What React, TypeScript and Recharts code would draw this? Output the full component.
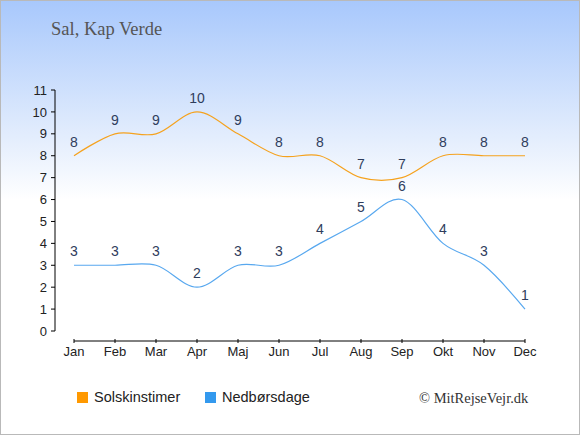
import React from "react";
import { LineChart, Line, XAxis, YAxis, LabelList, ReferenceLine, Legend } from "recharts";

const months = ["Jan", "Feb", "Mar", "Apr", "Maj", "Jun", "Jul", "Aug", "Sep", "Okt", "Nov", "Dec"];
const sunHours = [8, 9, 9, 10, 9, 8, 8, 7, 7, 8, 8, 8];
const rainDays = [3, 3, 3, 2, 3, 3, 4, 5, 6, 4, 3, 1];
const yTicks = [0, 1, 2, 3, 4, 5, 6, 7, 8, 9, 10, 11];

const seriesNames = { sun: "Solskinstimer", rain: "Nedbørsdage" };
const seriesColors = { sun: "#f5a21e", rain: "#58a8ef" };
const legendColors = { sun: "#ff9900", rain: "#3399ee" };

const data = months.map((month, i) => ({ month, sun: sunHours[i], rain: rainDays[i] }));

const PLOT_TOP = 90;
const PLOT_HEIGHT = 241;
const AXIS_GAP = 10; // x axis sits a little under the zero line
const gapValue = -(AXIS_GAP / (PLOT_HEIGHT / 11));

const sans = "'Liberation Sans', Arial, sans-serif";
const serif = "'Liberation Serif', 'Times New Roman', serif";

// cardinal spline (tension 0), same shape as d3's curveCardinal
class Cardinal {
  ctx: any;
  k = 1 / 6;
  x0 = NaN; x1 = NaN; x2 = NaN; y0 = NaN; y1 = NaN; y2 = NaN;
  pt = 0;
  ln: number = NaN;
  constructor(ctx: any) {
    this.ctx = ctx;
  }
  bez(x: number, y: number) {
    this.ctx.bezierCurveTo(
      this.x1 + this.k * (this.x2 - this.x0),
      this.y1 + this.k * (this.y2 - this.y0),
      this.x2 + this.k * (this.x1 - x),
      this.y2 + this.k * (this.y1 - y),
      this.x2,
      this.y2
    );
  }
  areaStart() { this.ln = 0; }
  areaEnd() { this.ln = NaN; }
  lineStart() {
    this.x0 = this.x1 = this.x2 = this.y0 = this.y1 = this.y2 = NaN;
    this.pt = 0;
  }
  lineEnd() {
    if (this.pt === 2) this.ctx.lineTo(this.x2, this.y2);
    else if (this.pt === 3) this.bez(this.x1, this.y1);
    if (this.ln || (this.ln !== 0 && this.pt === 1)) this.ctx.closePath();
    this.ln = 1 - this.ln;
  }
  point(x: number, y: number) {
    x = +x; y = +y;
    if (this.pt === 0) {
      this.pt = 1;
      this.ln ? this.ctx.lineTo(x, y) : this.ctx.moveTo(x, y);
    } else if (this.pt === 1) {
      this.pt = 2;
      this.x1 = x; this.y1 = y;
    } else {
      this.pt = 3;
      this.bez(x, y);
    }
    this.x0 = this.x1; this.x1 = this.x2; this.x2 = x;
    this.y0 = this.y1; this.y1 = this.y2; this.y2 = y;
  }
}
const cardinal = (ctx: any) => new Cardinal(ctx);

function MonthTick({ x, y, payload }: any) {
  return (
    <g>
      <line x1={x} x2={x} y1={y + AXIS_GAP - 2} y2={y + AXIS_GAP + 2} stroke="#000" />
      <text x={x} y={y + 25} textAnchor="middle" fontSize={13} fontFamily={sans} fill="#222">
        {payload.value}
      </text>
    </g>
  );
}

function LegendBox() {
  const keys: ("sun" | "rain")[] = ["sun", "rain"];
  return (
    <div style={{ display: "flex", alignItems: "center", fontFamily: sans, fontSize: 14.5, color: "#222" }}>
      {keys.map((k) => (
        <div key={k} style={{ display: "flex", alignItems: "center", width: k === "sun" ? 128 : "auto" }}>
          <span style={{ width: 11, height: 11, background: legendColors[k], marginRight: 6, display: "inline-block" }} />
          {seriesNames[k]}
        </div>
      ))}
    </div>
  );
}

export default function App() {
  return (
    <div
      style={{
        position: "absolute",
        left: 0,
        top: 0,
        width: 580,
        height: 435,
        boxSizing: "border-box",
        border: "1px solid #b9b9b9",
        background: "linear-gradient(180deg, #a8c8fc 0%, #e6effd 33%, #ffffff 46%, #ffffff 100%)",
        overflow: "hidden",
      }}
    >
      <div style={{ position: "absolute", left: 50, top: 18, fontFamily: serif, fontSize: 18.5, color: "#555" }}>
        Sal, Kap Verde
      </div>
      <div style={{ position: "absolute", left: 418, top: 389, fontFamily: serif, fontSize: 14.5, color: "#333" }}>
        © MitRejseVejr.dk
      </div>
      <div style={{ position: "absolute", left: -1, top: -1 }}>
        <LineChart width={580} height={435} data={data} margin={{ top: PLOT_TOP, right: 55, bottom: 74, left: 15 }}>
          <XAxis
            dataKey="month"
            height={30}
            padding={{ left: 19, right: 0 }}
            axisLine={false}
            tickLine={false}
            tickSize={0}
            tickMargin={0}
            interval={0}
            tick={<MonthTick />}
          />
          <YAxis
            width={40}
            domain={[0, 11]}
            ticks={yTicks}
            interval={0}
            tickSize={4}
            tickMargin={4}
            axisLine={{ stroke: "#000" }}
            tickLine={{ stroke: "#000" }}
            tick={{ fontSize: 13, fontFamily: sans, fill: "#222" }}
          />
          <ReferenceLine
            segment={[
              { x: months[0], y: gapValue },
              { x: months[months.length - 1], y: gapValue },
            ]}
            stroke="#000"
            ifOverflow="visible"
          />
          <Line
            dataKey="sun"
            name={seriesNames.sun}
            type={cardinal as any}
            stroke={seriesColors.sun}
            strokeWidth={1.2}
            dot={false}
            activeDot={false}
            isAnimationActive={false}
          >
            <LabelList dataKey="sun" position="top" offset={9} fontSize={14} fontFamily={sans} fill="#2f3d5c" />
          </Line>
          <Line
            dataKey="rain"
            name={seriesNames.rain}
            type={cardinal as any}
            stroke={seriesColors.rain}
            strokeWidth={1.2}
            dot={false}
            activeDot={false}
            isAnimationActive={false}
          >
            <LabelList dataKey="rain" position="top" offset={9} fontSize={14} fontFamily={sans} fill="#2f3d5c" />
          </Line>
          <Legend
            layout="horizontal"
            align="center"
            verticalAlign="middle"
            wrapperStyle={{ top: 389, left: 77, width: "auto" }}
            content={<LegendBox />}
          />
        </LineChart>
      </div>
    </div>
  );
}
